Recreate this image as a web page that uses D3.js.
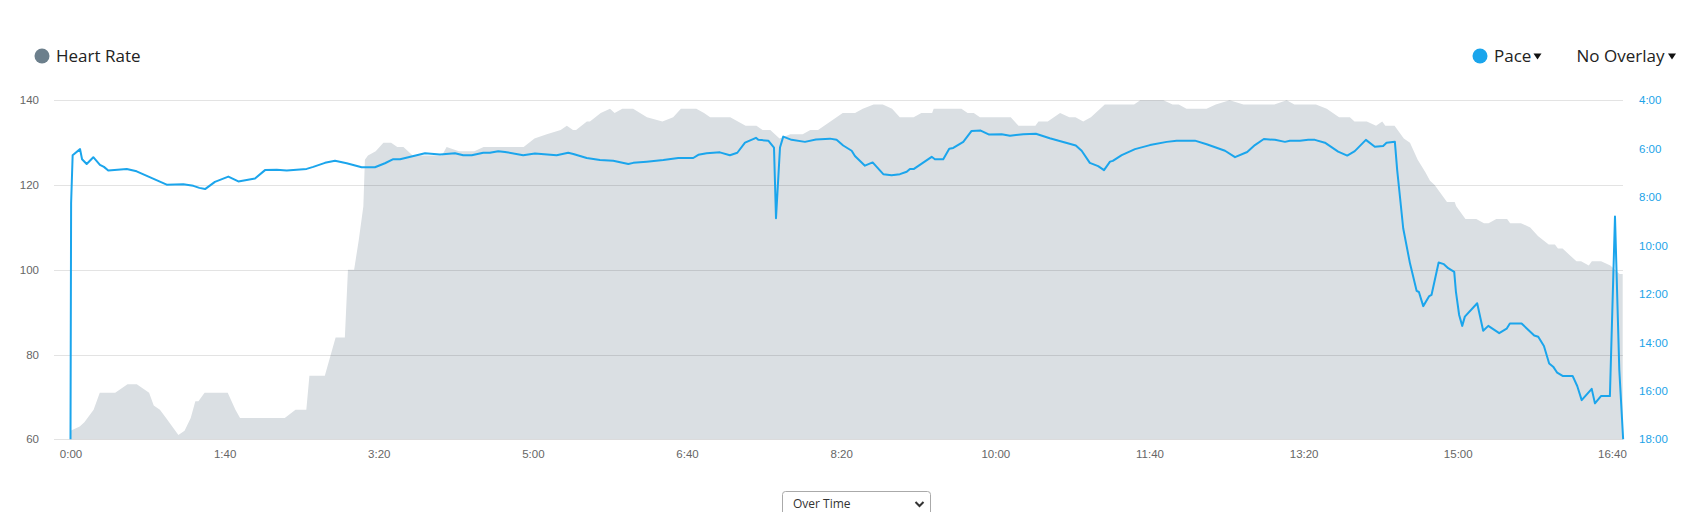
<!DOCTYPE html>
<html><head><meta charset="utf-8">
<script src="https://cdn.jsdelivr.net/npm/d3@7"></script>
<style>body{margin:0;background:#fff;overflow:hidden}svg{display:block}</style>
</head><body>
<svg id="chart" width="1692" height="512"></svg>
<script>
// ---- data (time in seconds) ----
const hrTime = [0,6,9,15,19,29,37,43,51,54,58,62,70,74,78,81,83,87,102,107,110,139,146,153,155,165,172,178,180,184,187,190,191,193,198,203,208,212,216,222,241,244,252,262,268,294,301,309,318,322,326,328,335,337,344,350,353,358,365,374,384,391,396,406,411,415,428,438,445,449,454,460,467,475,480,485,493,501,509,514,521,527,533,538,547,552,559,560,578,582,586,590,610,615,626,628,634,642,648,652,657,662,671,690,694,700,709,715,719,724,737,743,752,761,781,789,794,808,815,819,823,830,833,841,847,851,853,859,863,865,869,874,879,882,885,891,893,898,899,905,912,917,920,925,932,934,941,947,952,959,963,965,968,977,980,985,987,993,999,1005,1007];
const hrValue = [62,63,64,67,71,71,73,73,71,68,67,65,61,62,65,69,69,71,71,67,65,65,67,67,75,75,84,84,100,100,107,115,126,127,128,130,130,129,129,127,127,129,128,128,129,129,131,132,133,134,133,133,135,135,137,138,137,138,138,136,135,136,138,138,137,136,136,134,134,133,133,131,132,132,133,133,135,137,137,138,139,139,138,136,136,137,137,138,138,137,137,136,136,134,134,135,135,137,136,136,135,136,139,139,140,140,140,139,139,138,138,139,140,139,139,140,139,139,138,137,136,136,135,135,134,135,134,134,132,131,130,126,123,121,120,117,116,116,115,112,112,111,111,112,112,111,111,110,108,106,106,105,105,102,102,101,102,102,101,99,99];

const paceTime = [0,0.4,1.4,6.2,7.5,10.5,14.8,19.1,21.7,24.5,36.5,42.9,62.4,73.2,79.7,83.6,87.3,93.7,102.4,108.9,119.7,126.2,133.8,140.3,153.2,157.5,165.1,171.6,179.2,188.9,197.5,204,209.4,213.8,224.6,230,239.7,249.4,254.8,260.3,267.8,272.1,277.5,281.9,293.7,301.3,315.4,322.9,326.2,334.9,343.5,352.1,361.9,365.1,373.8,384.6,394.3,404,407.3,412.7,421.3,427.8,432.6,437.6,444.7,446.2,452.7,456.4,457.7,460.3,462.4,467.8,476.5,483.6,492.7,497,501.3,506.8,508.9,515.4,520.4,527.3,532.7,538.1,542.5,544.6,547.2,558.7,560.8,566.2,570.1,572.7,579.2,584.6,590.5,596,604.1,609.5,618.1,626.3,635.3,652.2,656,661.3,666.7,670.5,674.4,676.2,682,690.6,700.3,711.2,717.6,729.5,737.1,749,755.5,763.4,768.4,774.2,781.4,787.9,791.1,797.6,803,807.3,813.8,822.4,828.3,833.2,840.4,846.2,851.6,853.8,859.2,860.7,862.5,864.6,869,873.3,874.8,877.6,881.5,883,887.6,891,893.8,897.7,898.8,900.9,902.9,904.6,912.6,916.5,919.8,926.9,931.7,933.8,941.4,949.6,952.2,955.9,959.3,961.9,964.5,968,974.5,977.5,980.4,986.9,989,992.9,998.7,1002,1004.8,1007.3];
// pace in seconds per unit distance
const paceValue = [1080,495,376,361,386,398,381,400,405,414,410,416,449,448,452,457,460,442,429,441,434,413,412,414,410,405,395,390,396,406,406,396,386,386,376,371,374,371,376,376,370,370,366,368,376,372,376,370,373,383,388,390,398,395,392,388,383,383,375,371,369,376,370,345,333,338,340,357,532,357,330,338,343,337,335,338,352,365,378,402,394,423,426,423,417,410,410,380,386,386,360,358,343,316,315,325,324,328,324,323,334,352,365,395,403,413,392,390,376,361,351,343,340,340,349,365,381,368,351,336,338,343,340,340,338,338,345,367,377,366,338,355,353,345,343,413,479,557,644,712,715,750,725,722,642,646,656,665,714,772,799,776,743,811,799,817,806,793,793,823,826,849,892,900,915,923,923,948,983,955,991,973,973,528,908,1080];

const hrTicks = [60,80,100,120,140];
const paceTicks = [240,360,480,600,720,840,960,1080];
const timeTicks = [0,100,200,300,400,500,600,700,800,900,1000];

// ---- layout ----
const svg = d3.select("#chart");
const L = 54, R = 1623, T = 100.3, B = 439.3;
const x = d3.scaleLinear().domain([-10.7, 1007.2]).range([L, R]);
const yHR = d3.scaleLinear().domain([60, 140]).range([B, T]);
const yPace = d3.scaleLinear().domain([240, 1080]).range([T, B]);
const fmt = s => Math.floor(s/60) + ":" + String(Math.round(s%60)).padStart(2,"0");

const hrData = hrTime.map((t,i)=>({t, v: hrValue[i]}));
const paceData = paceTime.map((t,i)=>({t, v: paceValue[i]}));

// area
svg.append("path").datum(hrData)
  .attr("fill", "#dadfe3")
  .attr("d", d3.area().x(d=>x(d.t)).y0(B).y1(d=>yHR(d.v)));

// grid (on top of area, translucent)
svg.append("g").selectAll("line").data(hrTicks).join("line")
  .attr("x1", L).attr("x2", R)
  .attr("y1", d=>Math.round(yHR(d))+0.5).attr("y2", d=>Math.round(yHR(d))+0.5)
  .attr("stroke", "rgba(0,0,0,0.11)").attr("stroke-width", 1);

// left axis labels
const axL = svg.append("g").attr("transform", `translate(${L-15},0)`)
  .call(d3.axisLeft(yHR).tickValues(hrTicks).tickSize(0).tickPadding(0));
axL.select(".domain").remove();
axL.selectAll("text").attr("fill", "#666").attr("font-size", "11.5px")
  .attr("font-family", "'Liberation Sans', Arial, sans-serif");

// right axis labels
const axR = svg.append("g").attr("transform", `translate(${R+16},0)`)
  .call(d3.axisRight(yPace).tickValues(paceTicks).tickFormat(fmt).tickSize(0).tickPadding(0));
axR.select(".domain").remove();
axR.selectAll("text").attr("fill", "#1ca3e8").attr("font-size", "11.5px")
  .attr("font-family", "'Liberation Sans', Arial, sans-serif");

// bottom axis labels
const axB = svg.append("g").attr("transform", `translate(0,${B+11})`)
  .call(d3.axisBottom(x).tickValues(timeTicks).tickFormat(fmt).tickSize(0).tickPadding(0));
axB.select(".domain").remove();
axB.selectAll("text").attr("fill", "#666").attr("font-size", "11.5px")
  .attr("font-family", "'Liberation Sans', Arial, sans-serif");

// pace line
svg.append("path").datum(paceData)
  .attr("fill", "none").attr("stroke", "#1ba5ec").attr("stroke-width", 2)
  .attr("stroke-linejoin", "round")
  .attr("d", d3.line().x(d=>x(d.t)).y(d=>yPace(d.v)));

// legends
const lf = "'Open Sans', sans-serif";
svg.append("circle").attr("cx", 42).attr("cy", 56).attr("r", 7.5).attr("fill", "#6c7f8c");
svg.append("text").attr("x", 56).attr("y", 62).text("Heart Rate")
  .attr("font-family", lf).attr("font-size", "17px").attr("fill", "#222");

svg.append("circle").attr("cx", 1480).attr("cy", 56).attr("r", 7.5).attr("fill", "#1aa5ec");
svg.append("text").attr("x", 1494).attr("y", 62).text("Pace")
  .attr("font-family", lf).attr("font-size", "17px").attr("fill", "#222");
svg.append("path").attr("d", "M1533.5,53.5 L1541.5,53.5 L1537.5,59.5 Z").attr("fill", "#111");

svg.append("text").attr("x", 1576.5).attr("y", 62).text("No Overlay")
  .attr("font-family", lf).attr("font-size", "17px").attr("fill", "#222");
svg.append("path").attr("d", "M1668,53.5 L1676,53.5 L1672,59.5 Z").attr("fill", "#111");

// dropdown
svg.append("rect").attr("x", 782.5).attr("y", 491.5).attr("width", 148).attr("height", 30)
  .attr("rx", 3).attr("fill", "#fff").attr("stroke", "#aaa");
svg.append("text").attr("x", 793).attr("y", 508).text("Over Time")
  .attr("font-family", lf).attr("font-size", "12px").attr("fill", "#333");
svg.append("path").attr("d", "M915.5,502 L919.5,506 L923.5,502").attr("fill", "none")
  .attr("stroke", "#333").attr("stroke-width", 2);
</script>
</body></html>
